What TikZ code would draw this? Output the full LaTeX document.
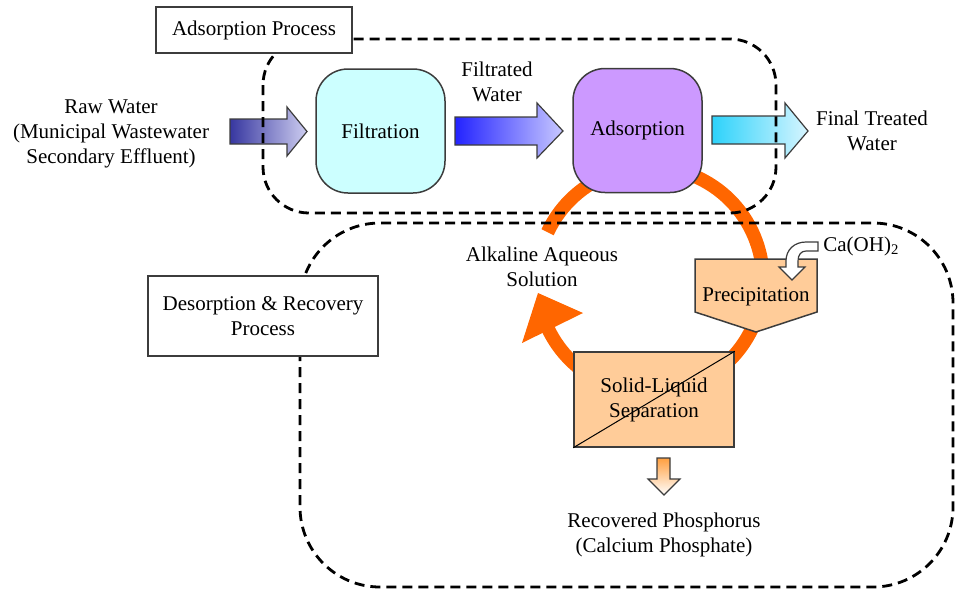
\documentclass[tikz,border=0pt]{standalone}
\usepackage{fontspec}
\setmainfont{Liberation Serif}
\usepackage{tikz}
\usetikzlibrary{arrows.meta}
\usetikzlibrary{positioning}

\definecolor{cycleorange}{RGB}{255,102,0}
\definecolor{peach}{RGB}{255,204,153}
\definecolor{filtfill}{RGB}{204,255,255}
\definecolor{adsfill}{RGB}{204,153,255}
\definecolor{edgegray}{RGB}{60,60,60}
\definecolor{rawleft}{RGB}{55,55,160}
\definecolor{rawright}{RGB}{205,205,240}
\definecolor{filtleft}{RGB}{35,35,255}
\definecolor{filtright}{RGB}{200,200,255}
\definecolor{finalleft}{RGB}{45,210,250}
\definecolor{finalright}{RGB}{215,245,255}

\tikzset{
  txt/.style={font=\fontsize{10.5}{12.5}\selectfont, align=center, inner sep=1pt},
  unitbox/.style={txt, draw=edgegray, line width=0.75pt, rounded corners=16pt,
    minimum width=64.5pt, minimum height=62pt},
  tagbox/.style={txt, draw=edgegray, fill=white, line width=0.6pt, inner sep=3pt},
  flowarrow/.style={draw=edgegray, line width=0.6pt},
  frameline/.style={line width=1.4pt, dash pattern=on 5pt off 3pt},
  cycleline/.style={cycleorange, line width=6.8pt},
  stepbox/.style={draw=edgegray, fill=peach, line width=0.75pt}
}

\begin{document}
\begin{tikzpicture}[x=0.5pt,y=-0.5pt]
\useasboundingbox (0,0) rectangle (959,590);

% recovery cycle
\draw[cycleline] (650,280) ++(205:113) arc[start angle=205, end angle=514, radius=113];
\fill[cycleorange] (538,293) -- (583,313) -- (522,343) -- cycle;

% process units
\node[unitbox, fill=filtfill] (filt) at (380.5,131) {Filtration};
\node[unitbox, fill=adsfill] (ads) at (637.5,130.5) {Adsorption};
\draw[stepbox] (695,259) -- (817,259) -- (817,312) -- (756,332) -- (695,312) -- cycle;
\node[txt] (prec) at (756,297) {Precipitation};
\node[stepbox, minimum width=80pt, minimum height=47.5pt, inner sep=0pt] (sep) at (654,399.5) {};
\draw[black, line width=0.5pt] (sep.south west) -- (sep.north east);
\node[txt] at (sep.center) {Solid-Liquid\\Separation};

% flow arrows
\shade[flowarrow, left color=rawleft, right color=rawright]
  (230,119) -- (287,119) -- (287,107) -- (307,131.5) -- (287,156) -- (287,144) -- (230,144) -- cycle;
\shade[flowarrow, left color=filtleft, right color=filtright]
  (455,117) -- (537,117) -- (537,103) -- (563,131) -- (537,158) -- (537,145) -- (455,145) -- cycle;
\shade[flowarrow, left color=finalleft, right color=finalright]
  (712,116) -- (785,116) -- (785,103) -- (808,131) -- (785,158) -- (785,144) -- (712,144) -- cycle;
\shade[flowarrow, top color=orange!75, bottom color=white]
  (657,458) -- (670,458) -- (670,479) -- (680,479) -- (664,495) -- (648,479) -- (657,479) -- cycle;
\draw[flowarrow, fill=white] (818,242) -- (806,242) .. controls (794,242) and (786,250) .. (786,261)
  -- (786,267) -- (779,267) -- (792,280) -- (805,267) -- (798,267) -- (798,261)
  .. controls (798,255) and (801,251) .. (806,251) -- (818,251) -- cycle;

% labels
\node[txt] (raw) at (111,134) {Raw Water\\(Municipal Wastewater\\Secondary Effluent)};
\node[txt] (filtwater) at (497,82) {Filtrated\\Water};
\node[txt] (final) at (872,131) {Final Treated\\Water};
\node[txt] (alk) at (542,267) {Alkaline Aqueous\\Solution};
\node[txt, anchor=west] (caoh) at (821,246) {Ca(OH)\textsubscript{2}};
\node[txt] (phos) at (664,535) {Recovered Phosphorus\\(Calcium Phosphate)};

% process frames
\draw[frameline, rounded corners=23pt] (263,39) rectangle (776,213);
\draw[frameline, rounded corners=40pt] (300,223) rectangle (953,587);
\node[tagbox, minimum width=98pt, minimum height=23pt] (adsproc) at (254,30) {Adsorption Process};
\node[tagbox, minimum width=115pt, minimum height=40pt] (desproc) at (263,316) {Desorption \& Recovery\\Process};
\end{tikzpicture}
\end{document}
